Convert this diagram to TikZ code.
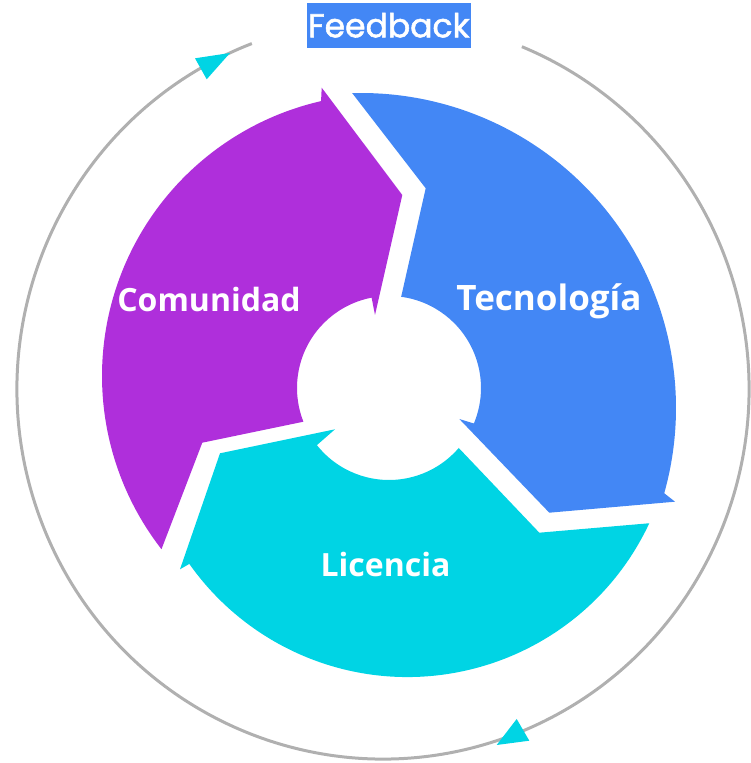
\documentclass[tikz,border=0pt]{standalone}
\usepackage{fontspec}
\setmainfont{Open Sans}
\newfontfamily\fbfont[FakeBold=1.6]{Poppins}
\usetikzlibrary{calc}
\definecolor{cpurple}{RGB}{175,47,219}
\definecolor{cblue}{RGB}{67,135,245}
\definecolor{ccyan}{RGB}{0,212,228}
\definecolor{cgrey}{RGB}{176,176,176}
\tikzset{
  ring/.style={draw=cgrey, line width=3pt},
  lbl/.style={text=white, font=\bfseries\fontsize{32}{32}\selectfont, anchor=base, inner sep=0pt},
  headtri/.style={fill=ccyan},
}
\begin{document}
\begin{tikzpicture}[x=1pt,y=1pt]
\useasboundingbox (0,0) rectangle (750,763);
\coordinate (H) at (389,375);
\coordinate (P) at (384,387);
\coordinate (B) at (361,355);
\coordinate (Q) at (407.5,353);
\coordinate (G) at (383,374);

% feedback ring
\draw[ring] ($(G)+({366*cos(111)},{370*sin(111)})$) arc[start angle=111, end angle=427.7, x radius=366, y radius=370];
\fill[headtri] (230,710) -- (195,704.7) -- (206.7,683.7) -- cycle;
\fill[headtri] (496.7,18) -- (516.7,44) -- (529.3,22.3) -- cycle;

% purple segment
\fill[cpurple] ($(P)+(102.9:282)$) -- (321.7,675.3) -- (402.3,568) -- (375,448)
  -- ($(H)+(100.9:92)$) arc[start angle=100.9, end angle=201.5, radius=92]
  -- (202.3,320.3) -- ($(P)+(217.9:282)$) arc[start angle=217.9, end angle=102.9, radius=282] -- cycle;

% blue segment
\fill[cblue] ($(B)+(91.6:315)$) -- (425.7,574.7)
  -- ($(H)+(82.4:92)$) arc[start angle=82.4, end angle=-22.7, radius=92]
  -- (459.3,344) -- (549.3,250.3) -- (675,261.3)
  -- ($(B)+(-15.7:315)$) arc[start angle=-15.7, end angle=91.6, radius=315] -- cycle;

% cyan segment
\fill[ccyan] ($(H)+(-40.7:92)$) -- (539.3,230.3)
  -- ($(Q)+(-25.1:267)$) arc[start angle=-25.1, end angle=-144.8, radius=267]
  -- (180,193.7) -- (220,309.7) -- (335,333.7)
  -- ($(H)+(218.4:92)$) arc[start angle=218.4, end angle=319.3, radius=92] -- cycle;

% labels
\node[lbl] (com) at (209,451) {Comunidad};
\node[lbl, font=\bfseries\fontsize{35}{35}\selectfont] (tec) at (549,452) {Tecnología};
\node[lbl] (lic) at (385.5,186) {Licencia};
\node[fill=cblue, minimum width=164pt, minimum height=45pt, inner sep=0pt, text=white,
      font=\fbfont\fontsize{33}{33}\selectfont] (fb) at (388.8,737.8) {Feedback};
\end{tikzpicture}
\end{document}
